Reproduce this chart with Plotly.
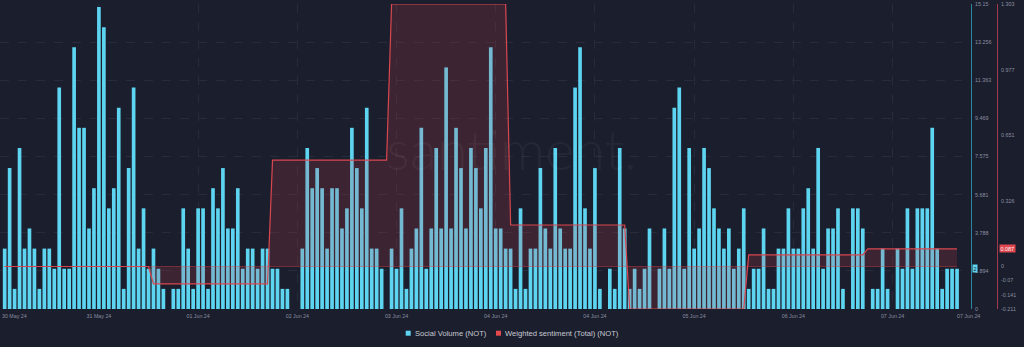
import plotly.graph_objects as go

# Hourly social volume for NOT, 30 May 24 -> 07 Jun 24 (one value per hour)
volume = [
    3, 7, 1, 8, 3, 4, 3, 1, 3, 3,
    2, 11, 2, 2, 13, 9, 9, 4, 6, 15,
    14, 5, 6, 10, 1, 7, 11, 3, 5, 2,
    3, 2, 1, 0, 1, 1, 5, 3, 1, 5,
    5, 1, 6, 5, 7, 4, 4, 6, 2, 3,
    3, 2, 3, 3, 2, 2, 1, 1, 0, 0,
    3, 8, 6, 7, 6, 3, 6, 6, 4, 5,
    9, 7, 5, 10, 3, 3, 2, 0, 3, 2,
    5, 1, 3, 4, 9, 2, 4, 8, 4, 12,
    4, 9, 7, 4, 8, 7, 5, 8, 13, 4,
    4, 3, 3, 1, 5, 1, 3, 3, 7, 4,
    3, 8, 4, 3, 3, 11, 13, 5, 3, 7,
    1, 0, 2, 1, 8, 4, 1, 2, 1, 2,
    4, 0, 2, 4, 2, 10, 11, 2, 8, 3,
    4, 8, 7, 5, 4, 3, 4, 2, 3, 5,
    1, 2, 2, 4, 1, 1, 3, 3, 5, 3,
    3, 5, 6, 3, 8, 2, 4, 4, 5, 1,
    0, 5, 5, 4, 0, 1, 1, 3, 1, 0,
    3, 2, 5, 2, 5, 5, 5, 9, 3, 1,
    2, 2, 2,
]

# Daily weighted sentiment (one value per day, held for every hour of that day)
sentiment_daily = [0.0, 0.0, -0.086, 0.528, 1.303, 0.206, -0.211, 0.058, 0.087]
HOURS_BEFORE_FIRST_FULL_DAY = 6

# Axis tick labels
x_tick_hours = [19, 39, 59, 79, 99, 119, 139, 159, 179]
x_tick_text = ["31 May 24", "01 Jun 24", "02 Jun 24", "03 Jun 24", "04 Jun 24",
               "04 Jun 24", "05 Jun 24", "06 Jun 24", "07 Jun 24"]
x_first_label = ("30 May 24", 2)
x_last_label = "07 Jun 24"
volume_ticks = ["0", "1.894", "3.788", "5.681", "7.575", "9.469", "11.363", "13.256", "15.15"]
sentiment_ticks = ["-0.211", "-0.141", "-0.07", "0", "0.326", "0.651", "0.977", "1.303"]

hours = list(range(len(volume)))
sentiment = [sentiment_daily[(h + 24 - HOURS_BEFORE_FIRST_FULL_DAY) // 24] for h in hours]

W, H = 1024, 347
BG = "#1b1e2d"
CYAN = "#5dd5f0"
RED = "#d9474f"
TICK_COLOR = "#8a8fa0"
FONT = "Liberation Sans, Arial, sans-serif"

PLOT_RIGHT = 962          # right edge of the bar area, px
VOL_AXIS_X = 971          # volume axis line, px
SENT_AXIS_X = 997         # sentiment axis line, px
TOP, BOTTOM = 4, 309

fig = go.Figure()

fig.add_trace(go.Bar(
    x=hours, y=volume, name="Social Volume (NOT)",
    marker=dict(color=CYAN, line=dict(width=0)),
    showlegend=False, hoverinfo="skip",
))

fig.add_trace(go.Scatter(
    x=hours, y=sentiment, yaxis="y2", name="Weighted sentiment (Total) (NOT)",
    mode="lines", line=dict(color=RED, width=1.2),
    fill="tozeroy", fillcolor="rgba(214,64,76,0.19)",
    showlegend=False, hoverinfo="skip",
))

# zero reference stroke of the sentiment area
fig.add_trace(go.Scatter(
    x=[hours[0], hours[-1]], y=[0, 0], yaxis="y2", mode="lines",
    line=dict(color="rgba(214,64,76,0.45)", width=1),
    showlegend=False, hoverinfo="skip",
))

vol_max = float(volume_ticks[-1])
sent_min, sent_max = float(sentiment_ticks[0]), float(sentiment_ticks[-1])

fig.update_layout(
    width=W, height=H,
    margin=dict(l=0, r=0, t=TOP, b=H - BOTTOM),
    paper_bgcolor=BG, plot_bgcolor=BG,
    font=dict(family=FONT, color=TICK_COLOR),
    bargap=0.26,
    showlegend=False,
    xaxis=dict(
        domain=[0, PLOT_RIGHT / W],
        range=[-0.94, 193.0],
        tickvals=x_tick_hours, ticktext=x_tick_text,
        tickfont=dict(size=5.3, color=TICK_COLOR),
        ticks="", ticklabelstandoff=3, showline=False, zeroline=False,
        showgrid=True, gridcolor="#272b3b", griddash="dash", gridwidth=1,
    ),
    yaxis=dict(
        range=[0, vol_max],
        tickvals=[float(t) for t in volume_ticks], ticktext=volume_ticks,
        side="right", anchor="free", position=VOL_AXIS_X / W,
        showline=True, linecolor="#2a879f", linewidth=1,
        ticks="", ticklabelstandoff=2,
        tickfont=dict(size=5.4, color=TICK_COLOR),
        showgrid=True, gridcolor="#272b3b", griddash="dash", gridwidth=1,
        zeroline=False,
    ),
    yaxis2=dict(
        range=[sent_min, sent_max], overlaying="y",
        tickvals=[float(t) for t in sentiment_ticks], ticktext=sentiment_ticks,
        side="right", anchor="free", position=SENT_AXIS_X / W,
        showline=True, linecolor="#a3394a", linewidth=1,
        ticks="", ticklabelstandoff=2,
        tickfont=dict(size=5.4, color=TICK_COLOR),
        showgrid=False, zeroline=False,
    ),
)

plot_h = BOTTOM - TOP


def py(px):
    """pixel row -> paper y"""
    return (BOTTOM - px) / plot_h


# edge date labels
fig.add_annotation(x=x_first_label[1], xref="x", y=py(315.5), yref="paper",
                   text=x_first_label[0], showarrow=False,
                   font=dict(size=5.3, color=TICK_COLOR), xanchor="center", yanchor="middle")
fig.add_annotation(x=968 / W, xref="paper", y=py(315.5), yref="paper",
                   text=x_last_label, showarrow=False,
                   font=dict(size=5.3, color=TICK_COLOR), xanchor="center", yanchor="middle")

# watermark
fig.add_annotation(x=511 / W, xref="paper", y=py(148), yref="paper",
                   text="santiment.", showarrow=False,
                   font=dict(size=56, family="Lato, sans-serif", color="rgba(255,255,255,0.045)", weight=300),
                   xanchor="center", yanchor="middle")

# latest-value markers on the axes
fig.add_annotation(x=972 / W, xref="paper", y=volume[-1], yref="y",
                   text=str(volume[-1]), showarrow=False, xanchor="left", yanchor="middle",
                   bgcolor=CYAN, borderpad=0.6,
                   font=dict(size=5.4, color=BG))
fig.add_annotation(x=999 / W, xref="paper", y=sentiment[-1], yref="y2",
                   text=f"{sentiment[-1]:.3f}", showarrow=False, xanchor="left", yanchor="middle",
                   bgcolor="#e2474f", borderpad=0.6,
                   font=dict(size=5.4, color="#f3f3f5"))

# legend
legend_items = [("Social Volume (NOT)", CYAN, 405.7), ("Weighted sentiment (Total) (NOT)", "#e5484d", 496.0)]
for label, color, x0 in legend_items:
    fig.add_shape(type="rect", xref="paper", yref="paper",
                  x0=x0 / W, x1=(x0 + 5) / W, y0=py(335.7), y1=py(330.7),
                  fillcolor=color, line=dict(width=0))
    fig.add_annotation(x=(x0 + 7.3) / W, xref="paper", y=py(333.2), yref="paper",
                       text=label, showarrow=False, xanchor="left", yanchor="middle",
                       font=dict(size=7.6, color="#c8cad3"))

fig.write_html("out.html", config={"displayModeBar": False})
